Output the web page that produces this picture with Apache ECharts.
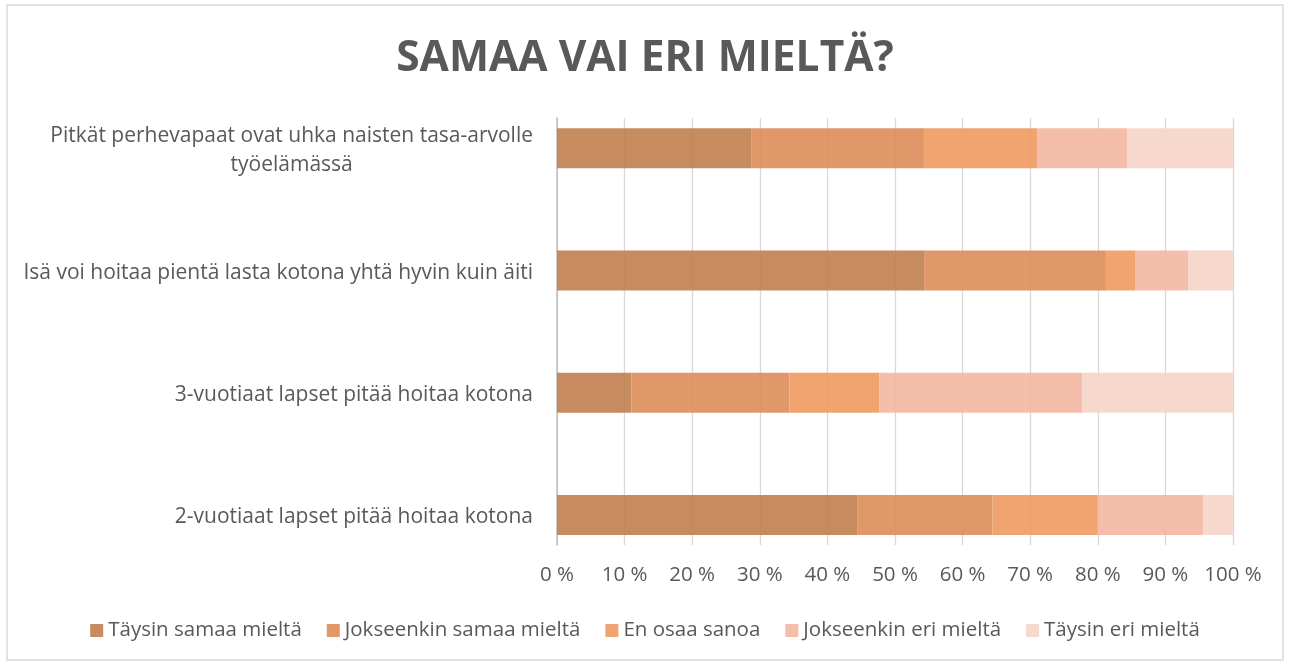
<!DOCTYPE html>
<html>
<head>
<meta charset="utf-8">
<script src="https://cdn.jsdelivr.net/npm/echarts@6/dist/echarts.min.js"></script>
<style>
  html, body { margin: 0; padding: 0; background: #fff; }
  #chart { width: 1290px; height: 666px; }
</style>
</head>
<body>
<div id="chart"></div>
<script>
var categories = [
  'Pitkät perhevapaat ovat uhka naisten tasa-arvolle\ntyöelämässä',
  'Isä voi hoitaa pientä lasta kotona yhtä hyvin kuin äiti',
  '3-vuotiaat lapset pitää hoitaa kotona',
  '2-vuotiaat lapset pitää hoitaa kotona'
]
var seriesNames = ['Täysin samaa mieltä', 'Jokseenkin samaa mieltä', 'En osaa sanoa', 'Jokseenkin eri mieltä', 'Täysin eri mieltä']
var taysinSamaa = [28.8, 54.3, 11.0, 44.4]
var jokseenkinSamaa = [25.5, 26.9, 23.4, 20.0]
var enOsaa = [16.7, 4.4, 13.3, 15.6]
var jokseenkinEri = [13.4, 7.8, 30.0, 15.6]
var taysinEri = [15.6, 6.6, 22.3, 4.4]
var colors = ['rgba(194,129,83,0.92)', 'rgba(221,143,94,0.92)', 'rgba(240,156,99,0.92)', 'rgba(244,185,164,0.92)', 'rgba(246,213,201,0.92)']

var values = [taysinSamaa, jokseenkinSamaa, enOsaa, jokseenkinEri, taysinEri]
var textColor = '#595959'
var font = 'Open Sans'

var chart = echarts.init(document.getElementById('chart'))
var option = {
  color: colors,
  textStyle: { fontFamily: font },
  title: {
    text: 'SAMAA VAI ERI MIELTÄ?',
    left: 'center',
    top: 32,
    textStyle: { fontFamily: font, fontSize: 42.5, fontWeight: 'bold', color: textColor }
  },
  graphic: [{
    type: 'rect',
    shape: { x: 7, y: 5, width: 1276, height: 655 },
    style: { fill: 'none', stroke: '#d9d9d9', lineWidth: 1.5 },
    silent: true
  }],
  legend: {
    data: seriesNames,
    bottom: 20,
    left: 'center',
    itemWidth: 13,
    itemHeight: 13,
    itemGap: 25,
    icon: 'rect',
    textStyle: { fontFamily: font, fontSize: 20.5, color: textColor }
  },
  grid: [
    { left: 557, right: 57, top: 87, bottom: 90 },
    { left: 557, right: 57, top: 118, bottom: 121 }
  ],
  xAxis: [
    { gridIndex: 0, type: 'value', min: 0, max: 100, show: false },
    {
      gridIndex: 1, type: 'value', min: 0, max: 100, interval: 10,
      axisLine: { show: false },
      axisTick: { show: false },
      splitLine: { lineStyle: { color: '#d9d9d9', width: 1.3 } },
      axisLabel: { formatter: '{value} %', fontSize: 20.5, color: textColor, margin: 20, fontFamily: font }
    }
  ],
  yAxis: [
    {
      gridIndex: 0, type: 'category', inverse: true, data: categories,
      axisLine: { show: false },
      axisTick: { show: false },
      axisLabel: {
        margin: 24,
        fontSize: 21,
        color: textColor,
        fontFamily: font,
        lineHeight: 29,
        padding: [5, 0, 0, 0],
        formatter: function (v) {
          return v.split('\n').map(function (s) { return '{c|' + s + '}' }).join('\n')
        },
        rich: { c: { align: 'center', fontSize: 21, color: textColor, fontFamily: font, lineHeight: 29 } }
      }
    },
    {
      gridIndex: 1, type: 'value', min: 0, max: 1,
      axisLine: { show: true, lineStyle: { color: '#bfbfbf', width: 1.5 } },
      axisTick: { show: false },
      axisLabel: { show: false },
      splitLine: { show: false }
    }
  ],
  series: seriesNames.map(function (name, i) {
    return {
      name: name,
      type: 'bar',
      stack: 'total',
      xAxisIndex: 0,
      yAxisIndex: 0,
      barWidth: 40,
      data: values[i]
    }
  })
}
chart.setOption(option)
</script>
</body>
</html>
